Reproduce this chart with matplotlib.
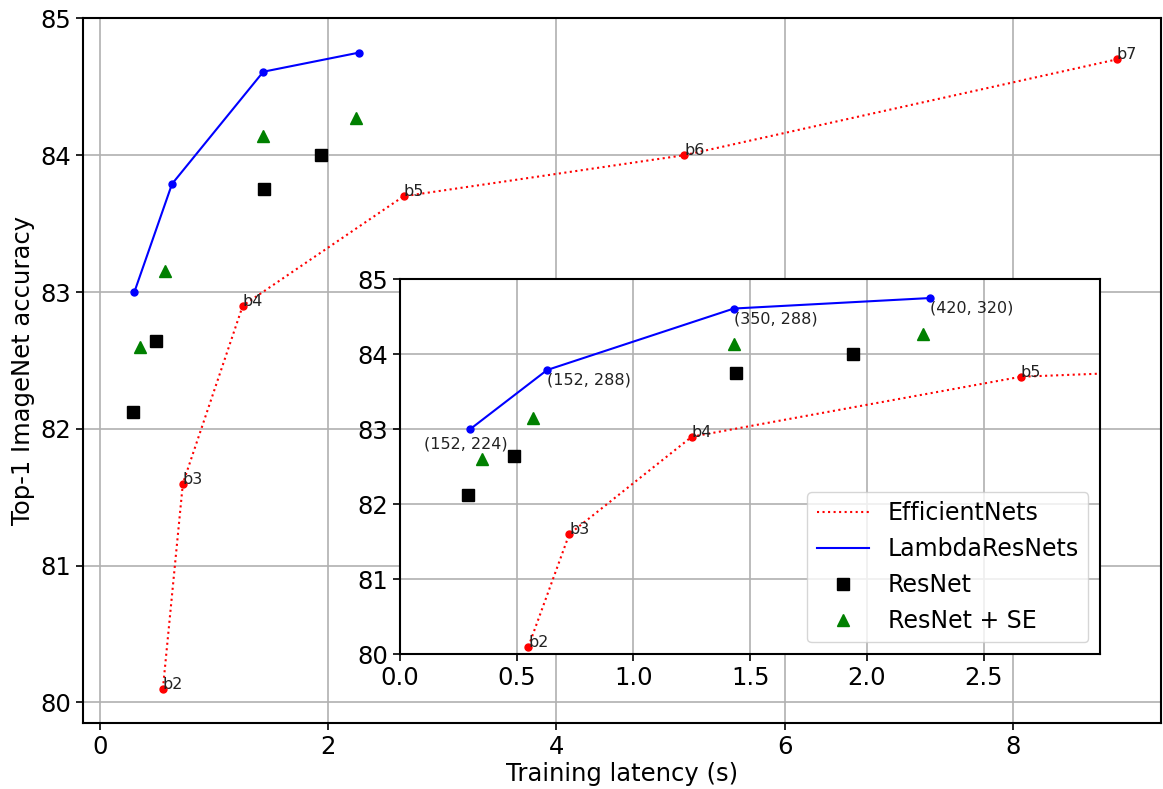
import matplotlib.pyplot as plt

# EfficientNets b2..b7
eff_names = ['b2', 'b3', 'b4', 'b5', 'b6', 'b7']
eff_x = [0.55, 0.725, 1.25, 2.66, 5.12, 8.91]
eff_y = [80.1, 81.6, 82.9, 83.7, 84.0, 84.7]

# LambdaResNets (depth, image size)
lam_names = ['(152, 224)', '(152, 288)', '(350, 288)', '(420, 320)']
lam_x = [0.30, 0.63, 1.43, 2.27]
lam_y = [83.0, 83.79, 84.61, 84.75]

res_x = [0.29, 0.49, 1.44, 1.94]
res_y = [82.12, 82.64, 83.75, 84.0]

se_x = [0.35, 0.57, 1.43, 2.24]
se_y = [82.6, 83.15, 84.14, 84.27]

fig = plt.figure(figsize=(11.63, 7.89), dpi=100)
ax = fig.add_axes([0.0714, 0.0837, 0.927, 0.893])


def draw(a, inset):
    a.plot(eff_x, eff_y, 'r:', lw=1.5, label='EfficientNets')
    a.plot(eff_x, eff_y, 'ro', ms=5, ls='none')
    a.plot(lam_x, lam_y, 'b-', lw=1.5, label='LambdaResNets')
    a.plot(lam_x, lam_y, 'bo', ms=5, ls='none')
    a.plot(res_x, res_y, 'ks', ms=8.5, ls='none', label='ResNet')
    a.plot(se_x, se_y, 'g^', ms=8.5, ls='none', label='ResNet + SE')
    for n, x, y in zip(eff_names, eff_x, eff_y):
        if inset and x > 3:
            continue
        a.text(x, y, n, fontsize=11.5, color='#222222')
    if inset:
        for i, (n, x, y) in enumerate(zip(lam_names, lam_x, lam_y)):
            if i == 0:
                a.annotate(n, (x, y), xytext=(-3, -5), textcoords='offset points',
                           ha='center', va='top', fontsize=11.5, color='#222222')
            else:
                a.annotate(n, (x, y), xytext=(0, -2), textcoords='offset points',
                           ha='left', va='top', fontsize=11.5, color='#222222')
    a.grid(True, color='#b0b0b0', lw=1.2)
    a.tick_params(labelsize=17.5, width=1.2, length=5)
    for s in a.spines.values():
        s.set_linewidth(1.5)


draw(ax, False)
ax.set_xlim(-0.15, 9.3)
ax.set_ylim(79.85, 85.0)
ax.set_xticks([0, 2, 4, 6, 8])
ax.set_yticks([80, 81, 82, 83, 84, 85])
ax.set_xlabel('Training latency (s)', fontsize=17.5, labelpad=2)
ax.set_ylabel('Top-1 ImageNet accuracy', fontsize=17.5)

axin = fig.add_axes([0.344, 0.171, 0.602, 0.475])
draw(axin, True)
axin.set_xlim(0, 3)
axin.set_ylim(80, 85)
axin.set_xticks([0.0, 0.5, 1.0, 1.5, 2.0, 2.5])
axin.set_yticks([80, 81, 82, 83, 84, 85])
axin.legend(loc='lower right', fontsize=17, framealpha=0.8,
            borderaxespad=0.5, labelspacing=0.5, handlelength=2.2)

fig.savefig('out.png', dpi=100)
